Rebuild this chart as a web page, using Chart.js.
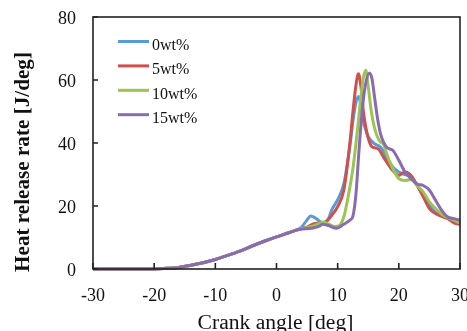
<!DOCTYPE html>
<html><head><meta charset="utf-8">
<script src="https://cdn.jsdelivr.net/npm/chart.js@4.4.0/dist/chart.umd.min.js"></script>
<style>html,body{margin:0;padding:0;background:#fff}#wrap{width:467px;height:331px;position:relative}</style>
</head><body><div id="wrap"><canvas id="c"></canvas></div>
<script>
const seriesNames = ['0wt%', '5wt%', '10wt%', '15wt%'];
const seriesColors = ['#5B9BD5', '#D0504D', '#9BC454', '#8A6BB0'];
const xTickLabels = ['-30', '-20', '-10', '0', '10', '20', '30'];
const yTickLabels = ['0', '20', '40', '60', '80'];
const xTitle = 'Crank angle [deg]';
const yTitle = 'Heat release rate [J/deg]';

const angle0 = [-30,-25,-20,-18,-16,-14,-12,-10,-8,-6,-4,-2,0,2,3,4,5,5.6,6.5,7.6,8.5,9,10,11,12,12.5,13,13.4,13.8,14.2,14.6,15,16,17,18,19,20,21,22,23,24,25,26,27,28,29,30];
const rate0  = [0,0,0,0.2,0.5,1.2,2,3,4.3,5.7,7.3,8.8,10.2,11.5,12.2,13.1,15.6,16.8,16,14.6,16,18.6,22,27,39,47,53,54.8,52,47,44,42,39.8,38.7,35.5,32.4,30.8,30,29.2,26.5,23.4,20.2,18,17,16.3,15.5,14.6];

const angle5 = [-30,-25,-20,-18,-16,-14,-12,-10,-8,-6,-4,-2,0,2,3,4,5,6,7,8,9,10,11,12,12.5,13,13.4,13.8,14.2,14.6,15,15.5,16,16.7,17.5,18,19,20,21,22,23,24,25,26,27,28,29,30];
const rate5  = [0,0,0,0.2,0.5,1.2,2,3,4.3,5.7,7.3,8.8,10.2,11.5,12.2,12.8,13.3,14.3,14.6,14.9,17,19.8,25,40,50,58.5,62,58,50,45,41.5,39,38.5,38,35.5,34,31.3,29.7,30.8,29.7,26.5,22.9,19.2,17.6,16.7,16,14.6,14.2];

const angle10 = [-30,-25,-20,-18,-16,-14,-12,-10,-8,-6,-4,-2,0,2,3,4,5,6,7,7.6,8.5,9.5,10.3,11,11.5,12,12.5,13,13.5,14,14.6,15,15.5,16,16.5,17,17.5,18,19,20,21,22,23,24,25,26,27,28,29,30];
const rate10  = [0,0,0,0.2,0.5,1.2,2,3,4.3,5.7,7.3,8.8,10.2,11.5,12.2,12.8,13.1,13.7,14.5,14.9,14.3,13.5,13.8,16.5,20.8,26,32,40,49,58,63.1,57.8,50,45,42,40.3,39.6,36.6,31.9,28.7,28.1,28.4,26.5,24.4,21.3,19.2,17.4,16.3,15.5,14.6];

const angle15 = [-30,-25,-20,-18,-16,-14,-12,-10,-8,-6,-4,-2,0,2,3,4,5,6,7,7.5,8.5,9.8,11,12,12.5,13,13.5,14,14.5,15.2,15.6,16,16.5,17,18,19,20,21,22,23,24,25,26,27,28,29,30];
const rate15  = [0,0,0,0.2,0.5,1.2,2,3,4.3,5.7,7.3,8.8,10.2,11.5,12.2,12.6,12.8,13,13.6,14.2,13.8,12.9,14.2,15.5,16.8,24,38,50,58,62.2,60.5,55,48,43,38.7,37.7,34.5,30.8,28.7,27,26.5,25,21.8,18.6,16.5,16,15.5];

const angles = [angle0, angle5, angle10, angle15];
const rates = [rate0, rate5, rate10, rate15];

const datasets = seriesNames.map((name, i) => ({
  label: name,
  data: angles[i].map((a, j) => ({ x: a, y: rates[i][j] })),
  borderColor: seriesColors[i],
  backgroundColor: seriesColors[i],
  borderWidth: 3,
  pointRadius: 0,
  tension: 0.4,
  cubicInterpolationMode: 'monotone',
  order: 3 - i,
  clip: 2
}));

function fitFont(ctx, text, width, weight, family) {
  ctx.font = weight + ' 20px ' + family;
  const w = ctx.measureText(text).width;
  return 20 * width / w;
}

const decor = {
  id: 'decor',
  afterDatasetsDraw(chart) {
    const ctx = chart.ctx;
    const a = chart.chartArea;
    const xs = chart.scales.x, ys = chart.scales.y;
    ctx.save();
    ctx.strokeStyle = '#222';
    ctx.lineWidth = 1.6;
    ctx.strokeRect(a.left, a.top, a.right - a.left, a.bottom - a.top);
    // inner ticks
    ctx.beginPath();
    xs.ticks.forEach(t => {
      const px = xs.getPixelForValue(t.value);
      ctx.moveTo(px, a.bottom); ctx.lineTo(px, a.bottom - 6);
    });
    ys.ticks.forEach(t => {
      const py = ys.getPixelForValue(t.value);
      ctx.moveTo(a.left, py); ctx.lineTo(a.left + 5, py);
    });
    ctx.stroke();
    // legend
    ctx.font = '16px "Liberation Serif", serif';
    ctx.textBaseline = 'alphabetic';
    ctx.textAlign = 'left';
    chart.data.datasets.forEach((ds, i) => {
      const y = a.top + 24.5 + i * 24.4;
      ctx.strokeStyle = ds.borderColor;
      ctx.lineWidth = 3;
      ctx.beginPath();
      ctx.moveTo(a.left + 25, y); ctx.lineTo(a.left + 56, y);
      ctx.stroke();
      ctx.fillStyle = '#111';
      ctx.fillText(ds.label, a.left + 59, y + 8.5);
    });
    // axis titles
    ctx.fillStyle = '#111';
    let fs = fitFont(ctx, xTitle, 156, 'normal', '"Liberation Serif", serif');
    ctx.font = fs + 'px "Liberation Serif", serif';
    ctx.textAlign = 'center';
    ctx.textBaseline = 'alphabetic';
    ctx.fillText(xTitle, (a.left + a.right) / 2 - 1, 329);
    fs = fitFont(ctx, yTitle, 220, 'bold', '"Liberation Serif", serif');
    ctx.font = 'bold ' + fs + 'px "Liberation Serif", serif';
    ctx.translate(29, 162);
    ctx.rotate(-Math.PI / 2);
    ctx.textBaseline = 'alphabetic';
    ctx.fillText(yTitle, 0, 0);
    ctx.restore();
  }
};

new Chart(document.getElementById('c'), {
  type: 'line',
  data: { datasets },
  options: {
    responsive: true,
    maintainAspectRatio: false,
    animation: false,
    layout: { padding: { left: 0, top: 17, right: 7, bottom: 0 } },
    plugins: { legend: { display: false }, tooltip: { enabled: false } },
    scales: {
      x: {
        type: 'linear', min: -30, max: 30,
        ticks: {
          stepSize: 10, padding: 16, color: '#111',
          font: { family: '"Liberation Serif", serif', size: 18 },
          maxRotation: 0, autoSkip: false,
          callback: (v) => xTickLabels[Math.round((v + 30) / 10)]
        },
        grid: { display: false, drawTicks: false },
        border: { display: false },
        afterFit: (s) => { s.height = 62; s.paddingLeft = 0; s.paddingRight = 0; }
      },
      y: {
        min: 0, max: 80,
        ticks: {
          stepSize: 20, padding: 17, color: '#111', labelOffset: 2,
          font: { family: '"Liberation Serif", serif', size: 18 },
          callback: (v) => yTickLabels[Math.round(v / 20)]
        },
        grid: { display: false, drawTicks: false },
        border: { display: false },
        afterFit: (s) => { s.width = 93; s.paddingTop = 0; s.paddingBottom = 0; }
      }
    }
  },
  plugins: [decor]
});
</script>
</body></html>
